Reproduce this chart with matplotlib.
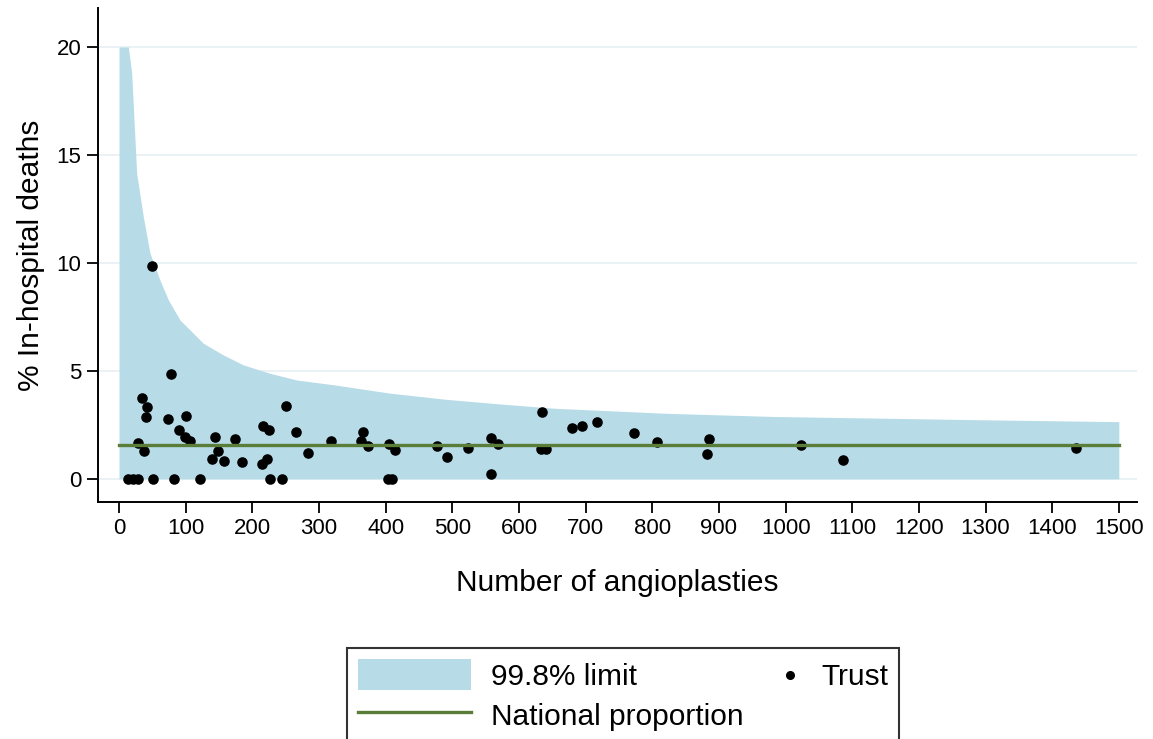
import matplotlib
matplotlib.use("Agg")
import matplotlib.pyplot as plt
from matplotlib.legend_handler import HandlerBase
from matplotlib.lines import Line2D
from matplotlib.patches import Patch

plt.rcParams["font.family"] = ["Liberation Sans", "DejaVu Sans"]

# upper 99.8% control limit (percent) against number of procedures
limit_n = [0, 14, 19, 24, 26.5, 36.5, 46.5, 61.5, 74, 91.5, 106.5, 126.5, 156.5,
           186.5, 226.5, 266.5, 324, 406.5, 489, 571.5, 654, 819, 983, 1147.5, 1312, 1500]
limit_pct = [20, 20, 18.8, 15.7, 14.15, 12.14, 10.45, 9.2, 8.29, 7.36, 6.9, 6.28, 5.74,
             5.28, 4.89, 4.58, 4.35, 3.97, 3.69, 3.47, 3.27, 3.04, 2.89, 2.81, 2.73, 2.65]

national_pct = 1.58
national_n = [0, 1500]

# one point per trust: angioplasties performed, % in-hospital deaths
trust_n = [14, 21, 28, 50.5, 82, 122, 226.5, 244, 404, 409,
           29, 34, 38, 40, 41.5, 50, 74, 77.5, 90, 99, 100, 106.5,
           139, 144, 148, 157.5, 174, 184, 214, 216, 221.5, 225.5, 250, 266,
           283, 318, 363, 366, 374, 405, 414, 477.5, 491.5, 523, 558, 568,
           558, 634, 632.5, 640.5, 679, 694, 717, 772.5, 806.5, 885, 881.5,
           1022.5, 1085.5, 1435.5]
trust_pct = [0, 0, 0, 0, 0, 0, 0, 0, 0, 0,
             1.65, 3.76, 1.31, 2.88, 3.35, 9.86, 2.78, 4.85, 2.27, 1.93, 2.92, 1.76,
             0.93, 1.93, 1.31, 0.85, 1.84, 0.80, 0.68, 2.47, 0.93, 2.27, 3.38, 2.18,
             1.2, 1.77, 1.77, 2.19, 1.53, 1.62, 1.34, 1.54, 1.03, 1.42, 1.88, 1.62,
             0.22, 3.09, 1.37, 1.37, 2.35, 2.45, 2.62, 2.12, 1.70, 1.84, 1.16,
             1.57, 0.86, 1.44]

fill_color = "#b7dce7"
line_color = "#5b7d3a"


class DotAtRight(HandlerBase):
    # legend marker sitting next to its label instead of mid-handle
    def create_artists(self, legend, orig_handle, xdescent, ydescent,
                       width, height, fontsize, trans):
        dot = Line2D([width - xdescent - 8], [height / 2 - ydescent],
                     marker="o", markersize=5.5, color="black",
                     linestyle="none", transform=trans)
        return [dot]


fig = plt.figure(figsize=(11.53, 7.39), dpi=100)
ax = fig.add_axes([0.085, 0.321, 0.901, 0.668])

ax.fill_between(limit_n, 0, limit_pct, color=fill_color, linewidth=0, zorder=1)
ax.scatter(trust_n, trust_pct, s=58, color="black", linewidths=0, zorder=3)
ax.plot(national_n, [national_pct] * len(national_n), color=line_color, linewidth=2.4, zorder=4)

ax.set_xlim(-31.5, 1527)
ax.set_ylim(-1.06, 21.8)
ax.set_xticks(range(0, 1501, 100))
ax.set_yticks([0, 5, 10, 15, 20])
ax.grid(axis="y", color="#e6f0f3", linewidth=1.2, zorder=0)
ax.set_axisbelow(True)

for side in ("top", "right"):
    ax.spines[side].set_visible(False)
ax.spines["left"].set_linewidth(1.4)
ax.spines["bottom"].set_linewidth(1.4)
ax.tick_params(axis="both", labelsize=16, length=8, width=1.3, pad=4)

ax.set_xlabel("Number of angioplasties", fontsize=21.5, labelpad=21)
ax.set_ylabel("% In-hospital deaths", fontsize=21.5, labelpad=8)

trust_handle = Line2D([], [], marker="o", color="black", linestyle="none", label="Trust")
handles = [
    Patch(facecolor=fill_color, edgecolor="none", label="99.8% limit"),
    Line2D([], [], color=line_color, linewidth=2.4, label="National proportion"),
    trust_handle,
]
leg = fig.legend(handles=handles, loc="upper left", bbox_to_anchor=(0.301, 0.1231),
                 ncol=2, fontsize=21.5, frameon=True, fancybox=False,
                 handlelength=3.8, handleheight=1.25, handletextpad=0.65,
                 columnspacing=-1.85, borderpad=0.36, borderaxespad=0,
                 labelspacing=0.3, handler_map={trust_handle: DotAtRight()})
leg.get_frame().set_edgecolor("black")
leg.get_frame().set_linewidth(1.5)

fig.savefig("out.png", dpi=100)
